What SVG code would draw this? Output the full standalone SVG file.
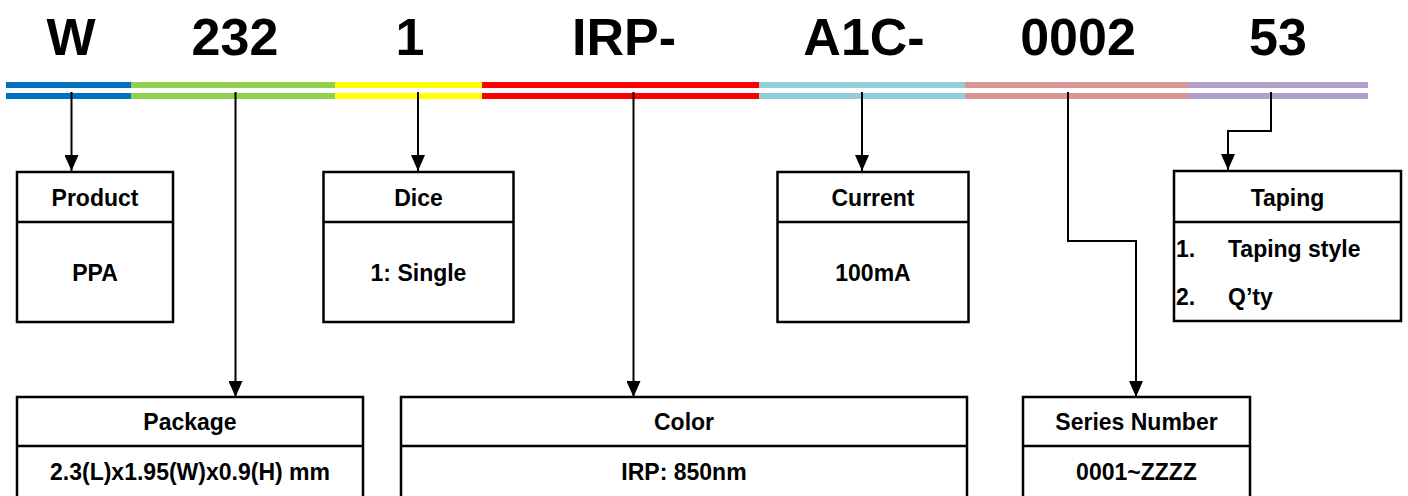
<svg xmlns="http://www.w3.org/2000/svg" width="1408" height="496" viewBox="0 0 1408 496">
<style>
.t{font-family:"Liberation Sans",Arial,sans-serif;font-weight:bold;fill:#000}
.title{font-size:52px;text-anchor:middle}
.lbl{font-size:23px;text-anchor:middle}
.lst{font-size:23px}
.box{fill:#fff;stroke:#000;stroke-width:2.5}
.div{stroke:#000;stroke-width:2.5}
.con{fill:none;stroke:#000;stroke-width:2;marker-end:url(#ah)}
</style>
<defs>
<marker id="ah" markerUnits="userSpaceOnUse" markerWidth="16" markerHeight="14" refX="16" refY="7" orient="auto">
<path d="M0,0 L16,7 L0,14 z" fill="#000"/>
</marker>
</defs>
<rect width="1408" height="496" fill="#fff"/>
<g id="title">
<text class="t title" x="71" y="55">W</text>
<text class="t title" x="235" y="55">232</text>
<text class="t title" x="410" y="55">1</text>
<text class="t title" x="624" y="55">IRP-</text>
<text class="t title" x="864" y="55">A1C-</text>
<text class="t title" x="1078" y="55">0002</text>
<text class="t title" x="1278" y="55">53</text>
</g>
<g id="bars">
<rect x="6" y="82" width="125" height="6" fill="#0070C0"/>
<rect x="131" y="82" width="204" height="6" fill="#92D050"/>
<rect x="335" y="82" width="147" height="6" fill="#FFFF00"/>
<rect x="482" y="82" width="277" height="6" fill="#FF0000"/>
<rect x="759" y="82" width="206" height="6" fill="#92CDDC"/>
<rect x="965" y="82" width="223" height="6" fill="#DA9694"/>
<rect x="1188" y="82" width="180" height="6" fill="#B1A0C7"/>
<rect x="6" y="93" width="125" height="6" fill="#0070C0"/>
<rect x="131" y="93" width="204" height="6" fill="#92D050"/>
<rect x="335" y="93" width="147" height="6" fill="#FFFF00"/>
<rect x="482" y="93" width="277" height="6" fill="#FF0000"/>
<rect x="759" y="93" width="206" height="6" fill="#92CDDC"/>
<rect x="965" y="93" width="223" height="6" fill="#DA9694"/>
<rect x="1188" y="93" width="180" height="6" fill="#B1A0C7"/>
</g>
<g id="connectors">
<path class="con" d="M71.5,92 V171"/>
<path class="con" d="M418,92 V171"/>
<path class="con" d="M862,92 V171"/>
<path class="con" d="M1271,92 V131 H1228 V170"/>
<path class="con" d="M235.5,92 V397"/>
<path class="con" d="M633.5,92 V397"/>
<path class="con" d="M1068,92 V241 H1136 V397"/>
</g>
<g id="product">
<rect class="box" x="17" y="172" width="156" height="150"/>
<line class="div" x1="17" y1="222" x2="173" y2="222"/>
<text class="t lbl" x="95" y="206">Product</text>
<text class="t lbl" x="95" y="281">PPA</text>
</g>
<g id="dice">
<rect class="box" x="323.5" y="172" width="190" height="150"/>
<line class="div" x1="323.5" y1="222" x2="513.5" y2="222"/>
<text class="t lbl" x="418.5" y="206">Dice</text>
<text class="t lbl" x="418.5" y="281">1: Single</text>
</g>
<g id="current">
<rect class="box" x="777.5" y="172" width="191" height="150"/>
<line class="div" x1="777.5" y1="222" x2="968.5" y2="222"/>
<text class="t lbl" x="873" y="206">Current</text>
<text class="t lbl" x="873" y="281">100mA</text>
</g>
<g id="taping">
<rect class="box" x="1174" y="171" width="227" height="150"/>
<line class="div" x1="1174" y1="222" x2="1401" y2="222"/>
<text class="t lbl" x="1287.5" y="206">Taping</text>
<text class="t lst" x="1176" y="257">1.</text>
<text class="t lst" x="1228" y="257">Taping style</text>
<text class="t lst" x="1176" y="305">2.</text>
<text class="t lst" x="1228" y="305">Q’ty</text>
</g>
<g id="package">
<rect class="box" x="17" y="397" width="346" height="110"/>
<line class="div" x1="17" y1="446" x2="363" y2="446"/>
<text class="t lbl" x="190" y="430">Package</text>
<text class="t lbl" x="190" y="480">2.3(L)x1.95(W)x0.9(H) mm</text>
</g>
<g id="color">
<rect class="box" x="401" y="397" width="566" height="110"/>
<line class="div" x1="401" y1="446" x2="967" y2="446"/>
<text class="t lbl" x="684" y="430">Color</text>
<text class="t lbl" x="684" y="480">IRP: 850nm</text>
</g>
<g id="series">
<rect class="box" x="1023" y="397" width="227" height="110"/>
<line class="div" x1="1023" y1="446" x2="1250" y2="446"/>
<text class="t lbl" x="1136.5" y="430">Series Number</text>
<text class="t lbl" x="1136.5" y="480">0001~ZZZZ</text>
</g>
</svg>
